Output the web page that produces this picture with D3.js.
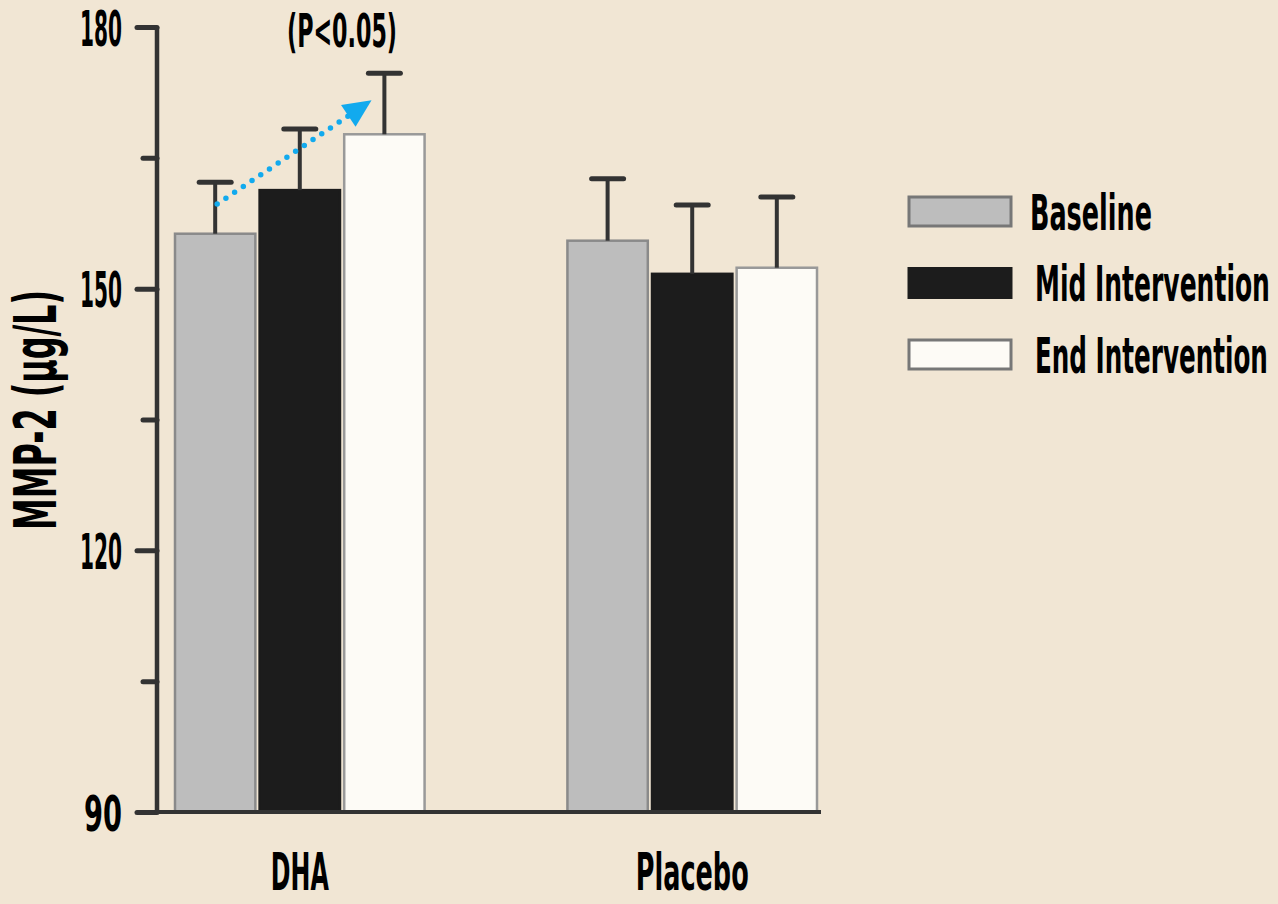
<!DOCTYPE html>
<html>
<head>
<meta charset="utf-8">
<script src="https://cdn.jsdelivr.net/npm/d3@7"></script>
<style>
  body { margin: 0; background: #f1e6d4; }
  svg text { font-family: "Liberation Sans Narrow", "DejaVu Sans Condensed", sans-serif; font-weight: bold; fill: #000; }
</style>
</head>
<body>
<svg id="chart" width="1278" height="904"></svg>
<script>
// Data
let groups = ["DHA", "Placebo"];
let series = ["Baseline", "Mid Intervention", "End Intervention"];
let means = {
  "DHA":     [156.3, 161.3, 167.7],
  "Placebo": [155.5, 151.7, 152.4]
};
let errTop = {
  "DHA":     [162.2, 168.3, 174.7],
  "Placebo": [162.6, 159.6, 160.5]
};
let majorTicks = [90, 120, 150, 180];
let minorTicks = [105, 135, 165];
let colors = ["#bdbdbd", "#1c1c1c", "#fdfbf6"];
let strokes = ["#8a8a8a", "#1c1c1c", "#999999"];

let svg = d3.select("#chart");

let y = d3.scaleLinear().domain([90, 180]).range([812, 27]);
let x0 = d3.scaleBand().domain(groups).range([175, 817]).paddingInner(0.364).paddingOuter(0);
let x1 = d3.scaleBand().domain(series).range([0, x0.bandwidth()]).paddingInner(0.05);

// squeeze text horizontally to a given width (condensed look)
function fit(sel, w) {
  let L = sel.node().getComputedTextLength();
  let k = w / L;
  let x = +sel.attr("x") || 0, yy = +sel.attr("y") || 0;
  let t = sel.attr("transform") || "";
  sel.attr("transform", t + " translate(" + x + "," + yy + ") scale(" + k + ",1) translate(" + (-x) + "," + (-yy) + ")");
}

// bars
let g = svg.append("g");
groups.forEach(function(grp) {
  series.forEach(function(s, i) {
    let bx = x0(grp) + x1(s);
    g.append("rect")
      .attr("x", bx)
      .attr("y", y(means[grp][i]))
      .attr("width", x1.bandwidth())
      .attr("height", y(90) - y(means[grp][i]))
      .attr("fill", colors[i])
      .attr("stroke", strokes[i])
      .attr("stroke-width", 2.5);
    // error bar
    let cx = bx + x1.bandwidth() / 2;
    g.append("line")
      .attr("x1", cx).attr("x2", cx)
      .attr("y1", y(means[grp][i])).attr("y2", y(errTop[grp][i]))
      .attr("stroke", "#333").attr("stroke-width", 4);
    g.append("line")
      .attr("x1", cx - 16).attr("x2", cx + 16)
      .attr("y1", y(errTop[grp][i])).attr("y2", y(errTop[grp][i]))
      .attr("stroke", "#333").attr("stroke-width", 5).attr("stroke-linecap", "round");
  });
});

// x axis line
svg.append("line")
  .attr("x1", 137).attr("x2", 821)
  .attr("y1", y(90)).attr("y2", y(90))
  .attr("stroke", "#333").attr("stroke-width", 4);

// y axis
let axMinor = svg.append("g").attr("transform", "translate(157,0)")
  .call(d3.axisLeft(y).tickValues(minorTicks).tickSize(14).tickFormat(""));
let axMajor = svg.append("g").attr("transform", "translate(157,0)")
  .call(d3.axisLeft(y).tickValues(majorTicks).tickSize(20).tickPadding(15).tickSizeOuter(0));
svg.selectAll(".domain").remove();
svg.selectAll(".tick line").attr("stroke", "#333").attr("stroke-width", 5).attr("stroke-linecap", "round");
svg.append("line")
  .attr("x1", 157).attr("x2", 157)
  .attr("y1", y(180)).attr("y2", y(90) + 2)
  .attr("stroke", "#333").attr("stroke-width", 4.5);
axMajor.selectAll(".tick text")
  .attr("font-size", 50)
  .attr("font-family", null)
  .attr("dy", "0.36em")
  .each(function(d) { fit(d3.select(this), d >= 100 ? 42 : 38); });

// y label
fit(svg.append("text")
  .attr("transform", "translate(56,410) rotate(-90)")
  .attr("text-anchor", "middle")
  .attr("font-size", 58)
  .text("MMP-2 (\u03bcg/L)"), 240);

// group labels
let groupWidths = [58, 113];
groups.forEach(function(grp, i) {
  fit(svg.append("text")
    .attr("x", x0(grp) + x0.bandwidth() / 2)
    .attr("y", 890)
    .attr("text-anchor", "middle")
    .attr("font-size", 51)
    .text(grp), groupWidths[i]);
});

// significance annotation
fit(svg.append("text")
  .attr("x", 342).attr("y", 47)
  .attr("text-anchor", "middle")
  .attr("font-size", 46)
  .text("(P<0.05)"), 110);

let ax1 = x0("DHA") + x1("Baseline") + x1.bandwidth() / 2 + 2;
let ay1 = y(159.7);
let ax2 = x0("DHA") + x1("End Intervention") + x1.bandwidth() * 0.34;
let ay2 = y(171.6);
let ang = Math.atan2(ay2 - ay1, ax2 - ax1);
let headLen = 28, headW = 13;
let bxh = ax2 - headLen * Math.cos(ang), byh = ay2 - headLen * Math.sin(ang);
svg.append("line")
  .attr("x1", ax1).attr("y1", ay1)
  .attr("x2", bxh).attr("y2", byh)
  .attr("stroke", "#12aaee").attr("stroke-width", 5.5)
  .attr("stroke-linecap", "round").attr("stroke-dasharray", "0 10.5");
svg.append("path")
  .attr("d", d3.line()([
    [ax2, ay2],
    [bxh + headW * Math.sin(ang), byh - headW * Math.cos(ang)],
    [bxh - headW * Math.sin(ang), byh + headW * Math.cos(ang)]
  ]) + "Z")
  .attr("fill", "#12aaee");

// legend
let legWidths = [122, 235, 233];
let legTextX = [1030, 1035, 1035];
series.forEach(function(s, i) {
  let ly = 197 + i * 71.5;
  svg.append("rect")
    .attr("x", 909).attr("y", ly)
    .attr("width", 102).attr("height", 29)
    .attr("fill", colors[i])
    .attr("stroke", i == 1 ? "#1c1c1c" : "#777")
    .attr("stroke-width", 3);
  fit(svg.append("text")
    .attr("x", legTextX[i]).attr("y", ly + 33)
    .attr("font-size", 50)
    .text(s), legWidths[i]);
});
</script>
</body>
</html>
